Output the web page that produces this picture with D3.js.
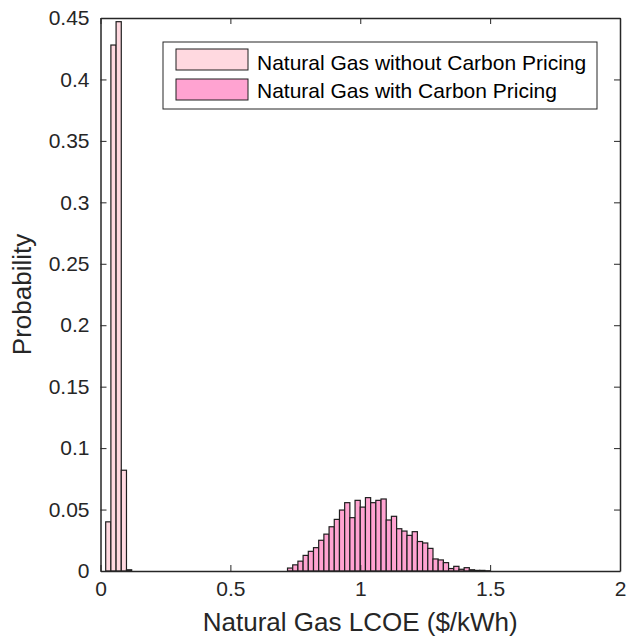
<!DOCTYPE html>
<html>
<head>
<meta charset="utf-8">
<script src="https://cdn.jsdelivr.net/npm/d3@7/dist/d3.min.js"></script>
<style>
  body { margin: 0; background: #fff; }
  svg { font-family: "Liberation Sans", Arial, sans-serif; }
</style>
</head>
<body>
<div id="chart"></div>
<script>
// histogram data (bin width 0.02 $/kWh)
const binWidth = 0.02;
const noCarbonStart = 0.02;
const noCarbonProb = [0.040, 0.428, 0.447, 0.082, 0.001];
const carbonStart = 0.72;
const carbonProb = [
  0.0024, 0.005, 0.008, 0.0127, 0.016, 0.019, 0.025, 0.030, 0.036, 0.042,
  0.0496, 0.0556, 0.0434, 0.0575, 0.052, 0.0597, 0.0556, 0.0575, 0.0586, 0.0415,
  0.0445, 0.0344, 0.0325, 0.029, 0.032, 0.024, 0.0228, 0.0184, 0.0098, 0.009,
  0.0068, 0.002, 0.0038, 0.0014, 0.0027, 0.001, 0.0005, 0.0005, 0.0002
];
const xTicks = [0, 0.5, 1, 1.5, 2];
const yTicks = [0, 0.05, 0.1, 0.15, 0.2, 0.25, 0.3, 0.35, 0.4, 0.45];
const seriesNames = ['Natural Gas without Carbon Pricing', 'Natural Gas with Carbon Pricing'];
const seriesColors = ['#ffd9e0', '#ffa3d1'];

const width = 628, height = 643;
const margin = { left: 100.5, right: 8, top: 18, bottom: 72 };

const svg = d3.select('#chart').append('svg')
  .attr('width', width)
  .attr('height', height);

const x = d3.scaleLinear().domain([0, 2]).range([margin.left, width - margin.right]);
const y = d3.scaleLinear().domain([0, 0.45]).range([height - margin.bottom, margin.top]);

// build bins from the arrays
const toBins = (start, probs) => probs.map((p, i) => ({
  x0: start + i * binWidth,
  x1: start + (i + 1) * binWidth,
  p: p
}));

const series = [toBins(noCarbonStart, noCarbonProb), toBins(carbonStart, carbonProb)];

series.forEach((bins, k) => {
  svg.append('g').selectAll('rect')
    .data(bins)
    .enter()
    .append('rect')
    .attr('x', d => x(d.x0))
    .attr('width', d => x(d.x1) - x(d.x0))
    .attr('y', d => y(d.p))
    .attr('height', d => y(0) - y(d.p))
    .attr('fill', seriesColors[k])
    .attr('stroke', '#1e1e1e')
    .attr('stroke-width', 1.2);
});

// axes: ticks inside, box on
const fmt = d => String(+d.toFixed(2));
const tickLen = 6;

const axisColor = '#262626';
svg.append('g')
  .attr('transform', `translate(0,${y(0)})`)
  .call(d3.axisBottom(x).tickValues(xTicks).tickFormat(fmt).tickSizeInner(-tickLen).tickSizeOuter(0).tickPadding(10))
  .call(g => g.selectAll('text').attr('font-size', 21).attr('fill', axisColor));

svg.append('g')
  .attr('transform', `translate(${x(0)},0)`)
  .call(d3.axisLeft(y).tickValues(yTicks).tickFormat(fmt).tickSizeInner(-tickLen).tickSizeOuter(0).tickPadding(11))
  .call(g => g.selectAll('text').attr('font-size', 21).attr('fill', axisColor));

svg.append('g')
  .attr('transform', `translate(0,${y(0.45)})`)
  .call(d3.axisTop(x).tickValues(xTicks).tickFormat('').tickSizeInner(-tickLen).tickSizeOuter(0));

svg.append('g')
  .attr('transform', `translate(${x(2)},0)`)
  .call(d3.axisRight(y).tickValues(yTicks).tickFormat('').tickSizeInner(-tickLen).tickSizeOuter(0));

svg.selectAll('.domain').attr('stroke', axisColor).attr('stroke-width', 1.5);
svg.selectAll('.tick line').attr('stroke', axisColor).attr('stroke-width', 1);

// axis titles
svg.append('text')
  .attr('x', (x(0) + x(2)) / 2)
  .attr('y', 631)
  .attr('text-anchor', 'middle')
  .attr('font-size', 26)
  .attr('fill', axisColor)
  .text('Natural Gas LCOE ($/kWh)');

svg.append('text')
  .attr('transform', `translate(31,${(y(0) + y(0.45)) / 2}) rotate(-90)`)
  .attr('text-anchor', 'middle')
  .attr('font-size', 26)
  .attr('fill', axisColor)
  .text('Probability');

// legend
const legend = svg.append('g');
legend.append('rect')
  .attr('x', 163).attr('y', 42)
  .attr('width', 434).attr('height', 67)
  .attr('fill', '#fff')
  .attr('stroke', axisColor)
  .attr('stroke-width', 1);

seriesNames.forEach((name, i) => {
  legend.append('rect')
    .attr('x', 176).attr('y', 49 + i * 30)
    .attr('width', 72).attr('height', 21)
    .attr('fill', seriesColors[i])
    .attr('stroke', '#1e1e1e');
  legend.append('text')
    .attr('x', 257).attr('y', 69.5 + i * 28)
    .attr('font-size', 21)
    .attr('fill', '#000')
    .text(name);
});
</script>
</body>
</html>
